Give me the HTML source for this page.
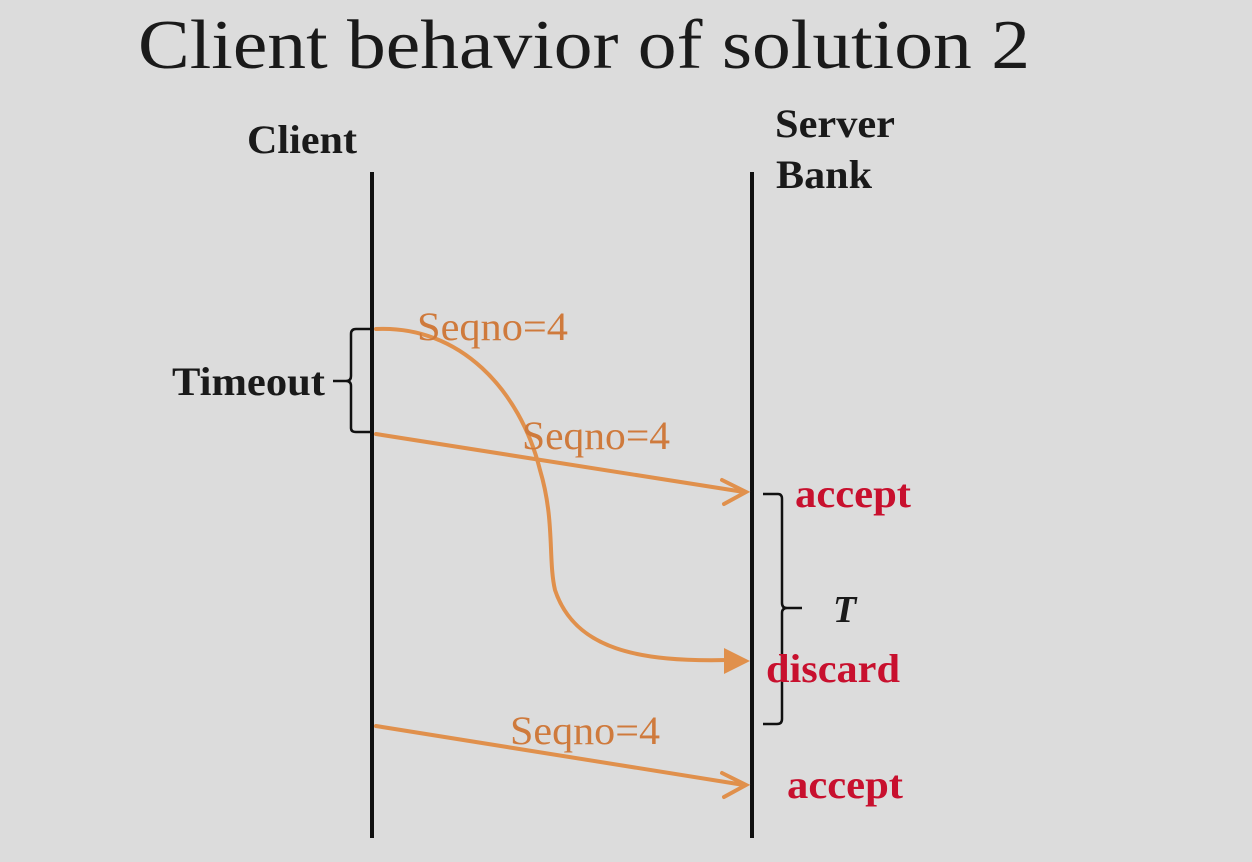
<!DOCTYPE html>
<html><head><style>
html,body{margin:0;padding:0;background:#dcdcdc;}
svg{display:block;}
</style></head><body>
<svg width="1252" height="862" viewBox="0 0 1252 862" xmlns="http://www.w3.org/2000/svg">
<rect width="1252" height="862" fill="#dcdcdc"/>
<text x="138" y="68" font-family="Liberation Serif, serif" font-size="70" textLength="892" lengthAdjust="spacingAndGlyphs" fill="#1a1a1a">Client behavior of solution 2</text>
<g font-family="Liberation Serif, serif" font-weight="bold" font-size="40" fill="#1a1a1a">
<text x="247" y="153" textLength="110" lengthAdjust="spacingAndGlyphs">Client</text>
<text x="775" y="137" textLength="120" lengthAdjust="spacingAndGlyphs">Server</text>
<text x="776" y="188" textLength="96" lengthAdjust="spacingAndGlyphs">Bank</text>
<text x="172" y="395" textLength="153" lengthAdjust="spacingAndGlyphs">Timeout</text>
</g>
<line x1="372" y1="172" x2="372" y2="838" stroke="#111" stroke-width="4"/>
<line x1="752" y1="172" x2="752" y2="838" stroke="#111" stroke-width="4"/>
<path d="M370 329 H356 Q351 329 351 334 V376 Q351 381 346 381 H333 M346 381 Q351 381 351 386 V428 Q351 432 356 432 H370" fill="none" stroke="#111" stroke-width="2.5"/>
<path d="M763 494 H778 Q782 494 782 499 V603 Q782 608 787 608 H802 M787 608 Q782 608 782 613 V719 Q782 724 777 724 H763" fill="none" stroke="#111" stroke-width="2.5"/>
<text x="833" y="622" font-family="Liberation Serif, serif" font-weight="bold" font-style="italic" font-size="38" fill="#1a1a1a">T</text>
<g stroke="#e0904c" stroke-width="4" fill="none" stroke-linecap="round">
<path d="M376 329 C460 325 520 390 540 470 C555 520 548 560 555 590 C575 650 640 662 728 660"/>
<line x1="376" y1="434" x2="744" y2="492"/>
<path d="M722 480 L746 492 L724 504"/>
<line x1="376" y1="726" x2="744" y2="785"/>
<path d="M722 773 L746 785 L724 797"/>
</g>
<polygon points="724,648 750,661 724,674" fill="#e0904c"/>
<g font-family="Liberation Serif, serif" font-size="40" fill="#cf7a3c">
<text x="417" y="340" textLength="151" lengthAdjust="spacingAndGlyphs">Seqno=4</text>
<text x="522" y="449" textLength="148" lengthAdjust="spacingAndGlyphs">Seqno=4</text>
<text x="510" y="744" textLength="150" lengthAdjust="spacingAndGlyphs">Seqno=4</text>
</g>
<g font-family="Liberation Serif, serif" font-weight="bold" font-size="40" fill="#c8102e">
<text x="795" y="507" textLength="116" lengthAdjust="spacingAndGlyphs">accept</text>
<text x="766" y="682" textLength="134" lengthAdjust="spacingAndGlyphs">discard</text>
<text x="787" y="798" textLength="116" lengthAdjust="spacingAndGlyphs">accept</text>
</g>
</svg>
</body></html>
